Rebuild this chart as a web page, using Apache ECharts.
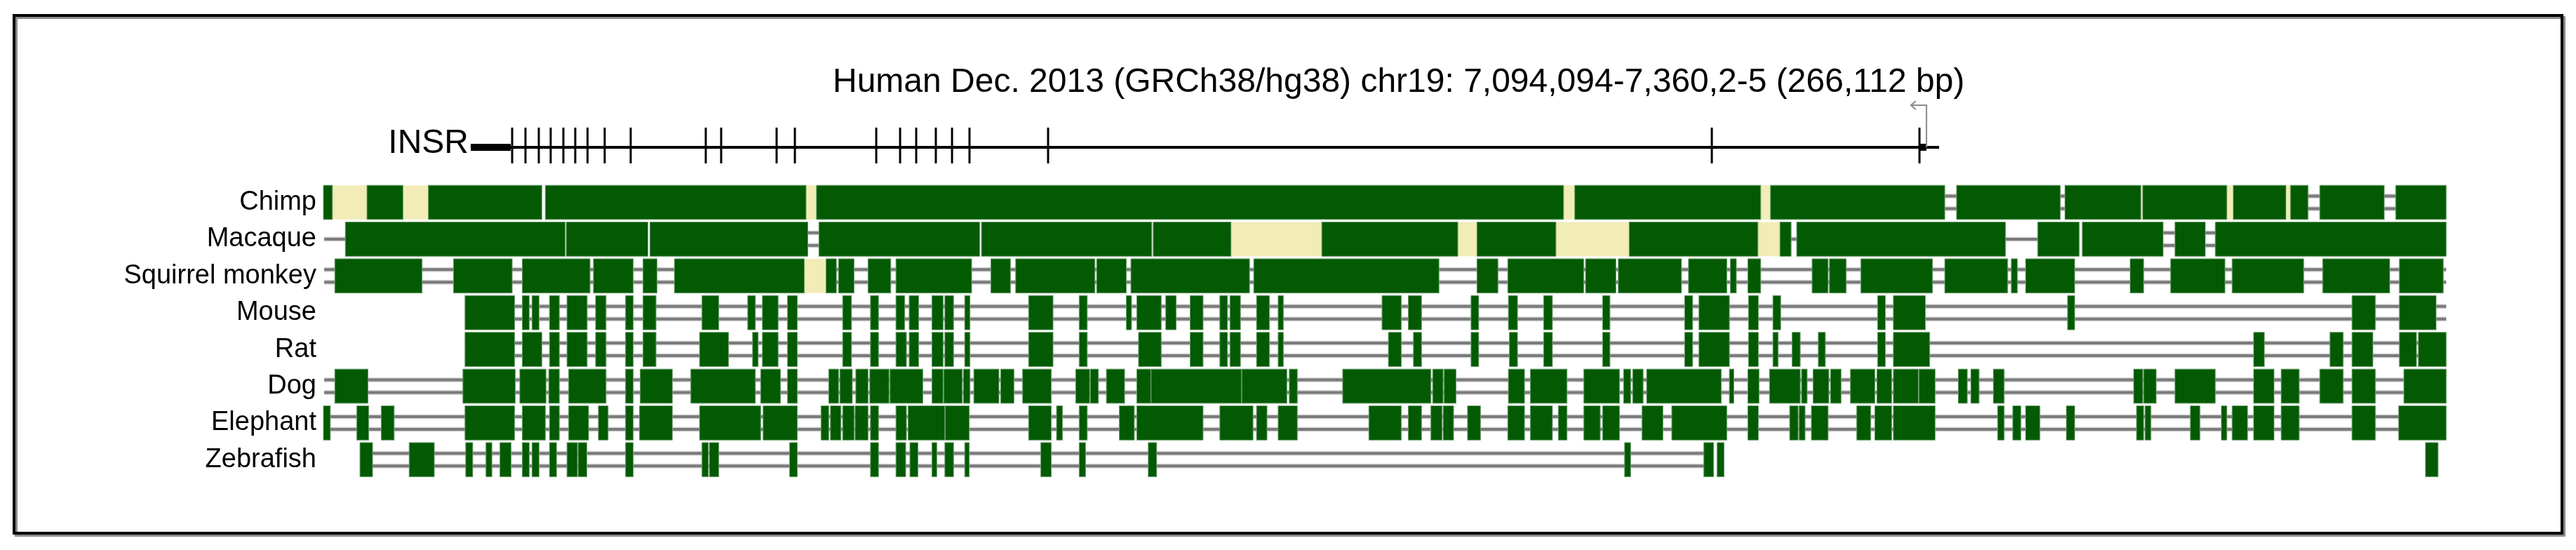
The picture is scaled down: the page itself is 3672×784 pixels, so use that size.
<!DOCTYPE html>
<html lang="en">
<head>
    <meta charset="UTF-8">
    <title>INSR conservation</title>
    <script src="https://cdn.jsdelivr.net/npm/echarts@6/dist/echarts.min.js"></script>
    <style>
        html, body { margin: 0; padding: 0; background: #fff; }
        #chart { width: 3672px; height: 784px; }
    </style>
</head>
<body>
<div id="chart"></div>
<script>
// all positions are kb from the window start (chr19:7,094,094)
var titleText = 'Human Dec. 2013 (GRCh38/hg38) chr19: 7,094,094-7,360,2-5 (266,112 bp)';
var windowKb = 266.1;
var species = ['Chimp', 'Macaque', 'Squirrel monkey', 'Mouse', 'Rat', 'Dog', 'Elephant', 'Zebrafish'];

// INSR gene model
var insrSpan = [18.47, 202.53];
var insrThick = [[18.47, 23.48], [200.07, 200.95]];
var insrExons = [23.66, 25.33, 27.0, 28.49, 30.08, 31.57, 33.11, 35.26, 38.52, 47.93, 49.86, 56.81, 59.1,
    69.3, 72.29, 74.31, 76.77, 78.8, 80.99, 90.84, 174.04, 200.07];
var insrTss = [200.95, 199.0];

// aligned blocks (green), N / unsequenced gaps (pale yellow), gap lines
var chimpBlocks = [[0, 1.13], [5.46, 9.97], [13.16, 27.38], [27.82, 60.5], [61.81, 155.46], [156.86, 180.17],
    [181.4, 203.24], [204.72, 217.73], [218.31, 227.83], [228.05, 238.59], [239.4, 246.0], [246.58, 248.78],
    [250.26, 258.34], [259.77, 266.1]];
var chimpN = [[1.13, 5.46], [9.97, 13.16], [60.5, 61.81], [155.46, 156.86], [180.17, 181.4], [227.83, 228.05],
    [238.59, 239.4], [246.0, 246.58]];
var chimpLines = [[203.24, 204.72], [217.73, 218.31], [248.78, 250.26], [258.34, 259.77]];

var macaqueBlocks = [[2.75, 30.31], [30.44, 40.68], [40.94, 60.72], [62.11, 82.27], [82.49, 103.84], [104.02, 113.77],
    [125.15, 142.2], [144.6, 154.5], [163.68, 179.82], [182.58, 183.98], [184.68, 210.86], [214.9, 220.1],
    [220.47, 230.61], [232.09, 235.9], [237.16, 266.1]];
var macaqueN = [[113.77, 125.15], [142.2, 144.6], [154.5, 163.68], [179.82, 182.58]];
var macaqueLines = [[60.72, 62.11], [230.61, 232.09], [235.9, 237.16]];
var macaqueSingle = [[0.1, 2.75], [183.98, 184.68], [210.86, 214.9]];

var squirrelBlocks = [[1.43, 12.37], [16.31, 23.66], [24.93, 33.42], [33.85, 38.84], [40.07, 41.82], [44.0, 60.28],
    [63.0, 64.3], [64.57, 66.52], [68.27, 71.12], [71.77, 81.26], [83.67, 86.12], [86.78, 96.71], [96.93, 100.65],
    [101.22, 116.09], [116.62, 139.84], [144.6, 147.23], [148.46, 157.99], [158.21, 162.02], [162.32, 170.24],
    [171.12, 175.93], [176.37, 177.11], [178.56, 180.17], [186.61, 188.62], [188.79, 190.89], [192.73, 201.71],
    [203.24, 211.13], [211.58, 212.35], [213.38, 219.52], [226.48, 228.18], [231.55, 238.37], [239.27, 248.24],
    [250.62, 259.01], [260.22, 265.74]];
var squirrelN = [[60.28, 63.0]];
var squirrelLines = [[0.1, 266.1]];

var mouseBlocks = [[17.75, 23.97], [24.93, 25.8], [26.15, 27.03], [28.34, 29.57], [30.53, 33.06], [34.12, 35.43],
    [37.88, 38.84], [40.07, 41.69], [47.46, 49.56], [53.19, 54.15], [55.03, 57.0], [58.18, 59.4], [65.09, 66.2],
    [68.58, 69.58], [71.77, 72.87], [73.43, 74.62], [76.28, 77.68], [77.9, 78.99], [80.39, 81.05], [88.4, 91.46],
    [94.74, 95.75], [100.65, 101.3], [101.96, 105.02], [105.59, 106.9], [108.65, 110.27], [112.37, 113.33],
    [113.64, 114.95], [116.97, 118.58], [119.68, 120.33], [132.7, 135.11], [135.99, 137.65], [143.86, 144.82],
    [148.54, 149.68], [152.96, 154.06], [160.36, 161.27], [170.64, 171.64], [172.43, 176.24], [178.64, 179.87],
    [181.7, 182.67], [194.83, 195.79], [196.8, 200.81], [218.63, 219.52], [254.3, 257.22], [260.22, 264.84]];
var mouseLines = [[17.75, 266.1]];

var ratBlocks = [[17.75, 23.97], [24.93, 27.38], [28.34, 29.57], [30.53, 33.06], [34.12, 35.43], [37.88, 38.84],
    [40.07, 41.69], [47.15, 50.78], [53.8, 54.5], [55.03, 57.0], [58.18, 59.4], [65.09, 66.2], [68.58, 69.58],
    [71.77, 73.08], [73.43, 74.62], [76.28, 77.68], [77.9, 78.99], [80.39, 81.05], [88.4, 91.46], [94.74, 95.75],
    [102.18, 105.02], [108.65, 110.27], [112.37, 113.33], [113.64, 114.95], [116.97, 118.58], [119.68, 120.33],
    [133.5, 135.11], [136.64, 137.65], [143.86, 144.82], [148.67, 149.68], [152.96, 154.06], [160.36, 161.27],
    [170.64, 171.64], [172.43, 176.24], [178.64, 179.87], [181.7, 182.36], [184.11, 185.12], [187.39, 188.27],
    [194.83, 195.79], [196.8, 201.35], [241.96, 243.31], [251.52, 253.18], [254.3, 256.9], [260.22, 262.38],
    [262.6, 266.1]];
var ratLines = [[17.75, 266.1]];

var dogBlocks = [[1.43, 5.59], [17.49, 24.05], [24.62, 27.9], [28.25, 29.57], [30.75, 35.43], [37.88, 38.84],
    [39.72, 43.74], [46.06, 54.15], [54.81, 57.3], [58.18, 59.4], [63.34, 64.57], [64.74, 66.3], [66.74, 68.27],
    [68.49, 70.9], [71.03, 75.14], [76.28, 77.68], [77.77, 80.08], [80.22, 81.05], [81.53, 84.68], [84.9, 86.56],
    [87.65, 91.24], [94.3, 96.05], [96.14, 97.15], [98.15, 100.43], [101.96, 103.71], [103.75, 115.08],
    [115.12, 120.77], [121.08, 122.08], [127.77, 138.83], [139.05, 140.36], [140.49, 141.98], [148.54, 150.56],
    [151.3, 155.89], [158.0, 162.46], [162.98, 163.86], [164.12, 165.43], [165.87, 175.23], [176.24, 176.8],
    [178.56, 179.96], [181.27, 185.12], [185.29, 185.99], [186.74, 188.71], [188.92, 190.24], [191.42, 194.48],
    [194.74, 196.58], [196.8, 199.92], [200.0, 202.03], [204.94, 206.06], [206.51, 207.54], [209.34, 210.69],
    [226.93, 228.05], [228.18, 229.75], [232.09, 237.16], [241.96, 244.52], [245.42, 247.66], [250.26, 253.18],
    [254.3, 257.22], [260.8, 266.1]];
var dogLines = [[0.1, 266.1]];

var elephantBlocks = [[0, 0.87], [4.19, 5.68], [7.25, 8.87], [17.75, 23.97], [24.93, 27.82], [28.34, 29.57],
    [30.75, 33.24], [34.47, 35.69], [37.88, 38.84], [39.63, 43.74], [47.15, 54.81], [55.12, 59.4], [62.38, 63.34],
    [63.56, 64.87], [65.09, 66.52], [66.65, 68.27], [68.58, 69.58], [71.77, 73.08], [73.3, 77.9], [77.95, 80.96],
    [88.4, 91.24], [91.9, 92.64], [94.74, 95.75], [99.77, 101.65], [101.96, 110.27], [112.37, 116.53],
    [116.97, 118.28], [119.68, 122.08], [131.05, 135.11], [135.99, 137.65], [138.83, 140.23], [140.36, 141.67],
    [143.42, 145.04], [148.46, 150.56], [151.3, 154.06], [154.8, 155.89], [158.0, 160.05], [160.36, 162.46],
    [165.3, 167.92], [169.02, 175.93], [178.56, 179.87], [183.8, 184.86], [184.99, 185.73], [186.52, 188.62],
    [192.21, 193.96], [194.48, 196.58], [196.8, 202.03], [209.88, 210.69], [211.76, 212.79], [213.38, 215.17],
    [218.49, 219.52], [227.29, 228.18], [228.36, 229.08], [234.02, 235.23], [237.92, 238.59], [239.27, 241.2],
    [241.96, 244.52], [245.42, 247.66], [254.3, 257.22], [260.13, 266.1]];
var elephantLines = [[0, 266.1]];

var zebrafishBlocks = [[4.58, 6.16], [10.75, 13.9], [17.84, 18.72], [20.38, 21.12], [22.13, 23.53], [24.93, 25.8],
    [26.15, 27.03], [28.34, 29.22], [30.53, 31.84], [31.93, 33.02], [37.88, 38.84], [47.46, 48.25], [48.38, 49.56],
    [58.44, 59.4], [68.58, 69.58], [71.77, 72.99], [73.52, 74.53], [76.28, 76.89], [77.9, 78.99], [80.39, 80.96],
    [89.93, 91.24], [94.74, 95.53], [103.4, 104.45], [163.11, 163.86], [173.04, 174.27], [174.71, 175.58],
    [263.5, 265.07]];
var zebrafishLines = [[6.16, 173.1]];

var blockSets = [chimpBlocks, macaqueBlocks, squirrelBlocks, mouseBlocks, ratBlocks, dogBlocks, elephantBlocks, zebrafishBlocks];
var nSets = [chimpN, macaqueN, squirrelN, [], [], [], [], []];
var lineSets = [chimpLines, macaqueLines, squirrelLines, mouseLines, ratLines, dogLines, elephantLines, zebrafishLines];
var singleSets = [[], macaqueSingle, [], [], [], [], [], []];

var GREEN = '#035a03';
var GENE_ROW = -1.5;
var HALF = 0.465;

function rows(sets, kind) {
    var out = [];
    sets.forEach(function (list, i) {
        list.forEach(function (iv) { out.push([i, iv[0], iv[1], kind || 0]); });
    });
    return out;
}

var myChart = echarts.init(document.getElementById('chart'), null, { renderer: 'canvas' });

function rectItem(fill, stroke) {
    return function (params, api) {
        var row = api.value(0);
        var p0 = api.coord([api.value(1), row - HALF]);
        var p1 = api.coord([api.value(2), row + HALF]);
        return {
            type: 'rect',
            shape: { x: p0[0], y: p0[1], width: Math.max(p1[0] - p0[0], 2), height: p1[1] - p0[1] },
            style: { fill: fill, stroke: stroke, lineWidth: stroke ? 1 : 0 }
        };
    };
}

function gapLineItem(params, api) {
    var row = api.value(0);
    var p0 = api.coord([api.value(1), row]);
    var p1 = api.coord([api.value(2), row]);
    var offs = api.value(3) === 1 ? [0] : [-9, 9];
    var kids = [];
    offs.forEach(function (o) {
        kids.push({ type: 'rect', shape: { x: p0[0], y: p0[1] + o - 3.5, width: p1[0] - p0[0], height: 7 }, style: { fill: '#d6d6d6' } });
        kids.push({ type: 'rect', shape: { x: p0[0], y: p0[1] + o - 2, width: p1[0] - p0[0], height: 4 }, style: { fill: '#7a7a7a' } });
    });
    return { type: 'group', children: kids };
}

var option = {
    animation: false,
    backgroundColor: '#fff',
    title: {
        text: titleText,
        left: 1187,
        top: 94,
        padding: 0,
        textStyle: { fontFamily: 'Liberation Sans', fontSize: 48, fontWeight: 'normal', color: '#000' }
    },
    grid: { left: 461, width: 3026, top: 78.9, height: 628.8 },
    xAxis: { type: 'value', min: 0, max: windowKb, show: false },
    yAxis: {
        type: 'value', min: -4, max: 8, interval: 1, inverse: true,
        axisLine: { show: false }, axisTick: { show: false }, splitLine: { show: false },
        axisLabel: {
            margin: 10,
            fontFamily: 'Liberation Sans', fontSize: 38, color: '#000',
            padding: [0, 0, 10, 0],
            formatter: function (v) { return species[v] || ''; }
        }
    },
    graphic: [
        { type: 'rect', shape: { x: 23, y: 25, width: 3632, height: 738 }, style: { fill: 'none', stroke: '#8a8a8a', lineWidth: 4 }, z: 0 },
        { type: 'rect', shape: { x: 20, y: 22, width: 3632, height: 738 }, style: { fill: 'none', stroke: '#000', lineWidth: 4 }, z: 1 }
    ],
    series: [
        {
            name: 'gap lines', type: 'custom', renderItem: gapLineItem, clip: false,
            data: rows(lineSets, 0).concat(rows(singleSets, 1)), encode: { x: [1, 2], y: 0 }
        },
        {
            name: 'N gaps', type: 'custom', renderItem: rectItem('#f2edb6', null), clip: false,
            data: rows(nSets), encode: { x: [1, 2], y: 0 }
        },
        {
            name: 'aligned', type: 'custom', renderItem: rectItem(GREEN, '#6a9c6a'), clip: false,
            data: rows(blockSets), encode: { x: [1, 2], y: 0 }
        },
        {
            name: 'INSR', type: 'custom', clip: false,
            data: [[insrSpan[0], insrSpan[1]]],
            renderItem: function (params, api) {
                var a = api.coord([api.value(0), GENE_ROW]);
                var b = api.coord([api.value(1), GENE_ROW]);
                return {
                    type: 'group', children: [
                        { type: 'rect', shape: { x: a[0], y: a[1] - 2, width: b[0] - a[0], height: 4 }, style: { fill: '#000' } },
                        { type: 'text', x: a[0] - 3, y: a[1] - 5, style: { text: 'INSR', fontFamily: 'Liberation Sans', fontSize: 48, fill: '#000', align: 'right', verticalAlign: 'middle' } }
                    ]
                };
            }
        },
        {
            name: 'INSR utr', type: 'custom', clip: false,
            data: insrThick,
            renderItem: function (params, api) {
                var a = api.coord([api.value(0), GENE_ROW]);
                var b = api.coord([api.value(1), GENE_ROW]);
                return { type: 'rect', shape: { x: a[0], y: a[1] - 5, width: b[0] - a[0], height: 10 }, style: { fill: '#000' } };
            }
        },
        {
            name: 'INSR exons', type: 'custom', clip: false,
            data: insrExons.map(function (x) { return [x]; }),
            renderItem: function (params, api) {
                var p = api.coord([api.value(0), GENE_ROW]);
                return { type: 'rect', shape: { x: p[0] - 1.5, y: p[1] - 28, width: 3, height: 51 }, style: { fill: '#000' } };
            }
        },
        {
            name: 'TSS', type: 'custom', clip: false,
            data: [insrTss],
            renderItem: function (params, api) {
                var a = api.coord([api.value(0), GENE_ROW]);
                var b = api.coord([api.value(1), GENE_ROW]);
                var top = a[1] - 60;
                return {
                    type: 'group', children: [
                        { type: 'polyline', shape: { points: [[a[0], a[1]], [a[0], top], [b[0], top]] }, style: { stroke: '#8a8a8a', lineWidth: 2, fill: null } },
                        { type: 'polyline', shape: { points: [[b[0] + 7, top - 6], [b[0], top], [b[0] + 7, top + 6]] }, style: { stroke: '#8a8a8a', lineWidth: 2, fill: null } }
                    ]
                };
            }
        }
    ]
};

myChart.setOption(option);
</script>
</body>
</html>
